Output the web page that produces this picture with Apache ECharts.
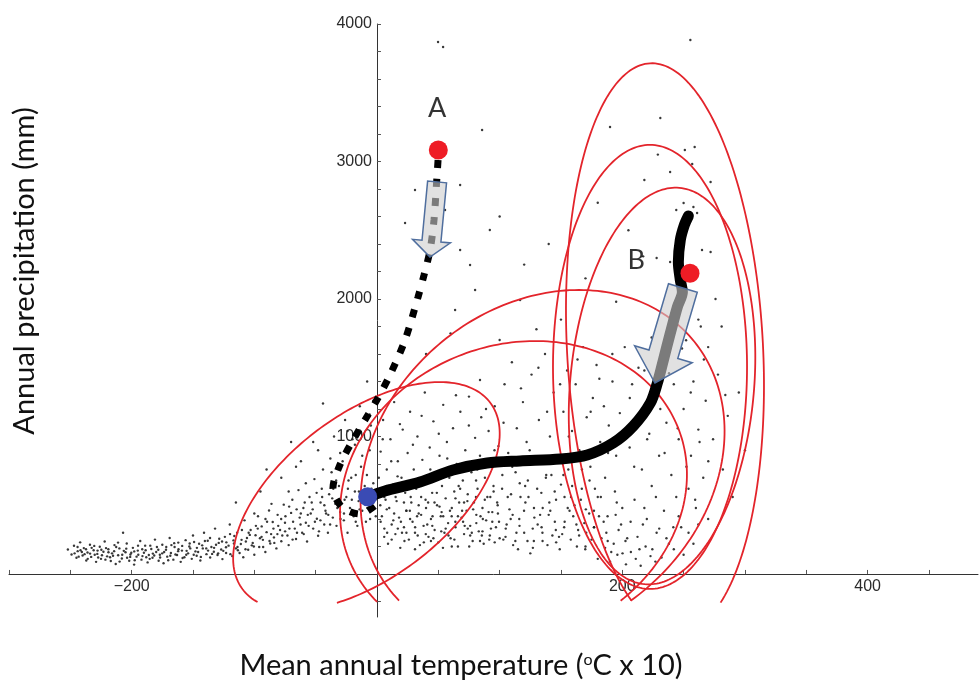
<!DOCTYPE html>
<html>
<head>
<meta charset="utf-8">
<title>Temperature vs precipitation</title>
<script src="https://cdn.jsdelivr.net/npm/echarts@6.0.0/dist/echarts.min.js"></script>
<style>
  html, body { margin: 0; padding: 0; background: #fff; }
  #chart { width: 979px; height: 681px; }
</style>
</head>
<body>
<div id="chart"></div>
<script>
// axis ticks / labels
const xTicks = [-300, -250, -200, -150, -100, -50, 0, 50, 100, 150, 200, 250, 300, 350, 400, 450];
const xLabels = [-200, 200, 400];
const yTicks = [-200, 0, 200, 400, 600, 800, 1000, 1200, 1400, 1600, 1800, 2000, 2200, 2400, 2600, 2800, 3000, 3200, 3400, 3600, 3800, 4000];
const yLabels = [1000, 2000, 3000, 4000];

// site cloud (temperature, precipitation)
const coldTail = [
  [-252,178],[-249,142],[-247,205],[-245,118],[-244,166],[-242,230],[-240,134],[-239,188],[-237,98],[-236,156],
  [-234,212],[-233,124],[-231,172],[-229,88],[-228,146],[-226,198],[-225,110],[-223,162],[-222,236],[-220,128],
  [-219,180],[-217,94],[-216,150],[-214,210],[-213,72],[-211,136],[-210,186],[-208,112],[-207,300],[-205,158],
  [-204,222],[-202,96],[-201,142],[-199,190],[-198,68],[-196,126],[-195,170],[-193,240],[-192,104],[-190,154],
  [-189,206],[-187,84],[-186,138],[-184,182],[-183,118],[-181,250],[-180,160],[-178,96],[-177,140],[-175,212],
  [-174,78],[-172,176],[-171,126],[-169,262],[-168,152],[-166,104],[-165,196],[-163,138],[-162,228],[-160,88],
  [-159,170],[-157,122],[-156,246],[-154,150],[-153,200],[-151,110],[-150,280],[-148,164],[-147,132],[-145,220],
  [-144,98],[-142,186],[-141,300],[-139,144],[-138,242],[-136,120],[-135,196],[-133,162],[-132,330],[-130,138],
  [-129,226],[-127,178],[-126,108],[-124,270],[-123,152],[-121,206],[-120,360],[-118,130],[-117,244],[-115,186],
  [-114,300],[-112,152],[-111,218],[-109,122],[-108,390],[-106,262],[-105,176],[-103,320],[-102,208],[-100,140],
  [-99,282],[-97,420],[-96,196],[-94,346],[-93,248],[-91,160],[-90,304],[-88,462],[-87,222],[-85,378],
  [-84,266],[-82,186],[-81,430],[-79,320],[-78,238],[-76,504],[-75,372],[-73,280],[-72,210],[-70,444],
  [-69,540],[-67,330],[-66,254],[-64,610],[-63,410],[-61,300],[-60,480],[-58,372],[-57,236],[-55,560],
  [-54,440],[-52,330],[-51,690],[-49,402],[-48,278],[-46,520],[-45,620],[-43,360],[-42,460],[-40,300],
  [-39,580],[-37,740],[-36,410],[-34,510],[-33,350],[-31,640],[-30,450],[-28,820],[-27,390],[-25,560],
  [-24,300],[-22,480],[-21,700],[-19,420],[-18,600],[-16,350],[-15,530],[-13,780],[-12,460],[-10,640],
  [-9,380],[-7,560],[-6,900],[-4,470],[-3,660],[-1,420],
  [-115,520],[-95,600],[-78,700],[-62,820],[-48,900],[-35,1000],[-26,1120],[-14,1220],[-5,1080],[-70,960],
  [-90,760],[-44,1240],[-20,980],[-8,1400]
];
const coldTail2 = [
  [-246.5,150],[-243.2,126],[-241.7,172],[-238.4,144],[-235.8,110],[-232.6,190],[-230.1,140],[-227.3,120],
  [-224.7,176],[-221.4,104],[-218.9,158],[-215.2,132],[-212.6,196],[-209.8,90],[-206.4,168],[-203.7,118],
  [-200.3,154],[-197.5,100],[-194.8,206],[-191.2,130],[-188.6,172],[-185.3,110],[-182.7,148],[-179.4,196],
  [-176.8,120],[-173.5,160],[-170.2,100],[-167.6,210],[-164.3,142],[-161.8,180],[-158.5,116],[-155.2,168],
  [-152.7,222],[-149.4,140],[-146.8,190],[-143.6,124],[-140.3,240],[-137.7,170],[-134.4,146],[-131.2,212],
  [-128.6,256],[-125.3,168],[-122.8,230],[-119.5,144],[-116.3,276],[-113.7,196],[-110.4,248],[-107.2,180],
  [-104.6,300],[-101.3,226],[-98.7,350],[-95.4,260],[-92.8,196],[-89.6,380],[-86.3,290],[-83.7,226],
  [-80.5,350],[-77.2,280],[-74.6,420],[-71.4,330],[-68.8,250],[-65.5,470],[-62.3,360],[-59.7,290],
  [-56.4,430],[-53.2,520],[-50.6,380],[-47.3,310],[-44.7,560],[-41.5,440],[-38.2,360],[-35.6,620],
  [-32.3,480],[-29.7,400],[-26.4,540],[-23.2,680],[-20.6,450],[-17.3,380],[-14.7,600],[-11.5,520],
  [-8.2,720],[-5.6,400],[-2.3,560],
  [-86,510],[-72,600],[-58,660],[-44,760],[-30,880],[-18,940],[-6,1160],[-100,440],[-66,780],[-38,840],
  [-24,1040],[-12,860],[-52,960],[-3,1260]
];
const coldTail3 = [
  [-244.1,196],[-240.6,160],[-237.2,180],[-233.9,148],[-230.5,204],[-227.8,170],[-224.2,136],[-220.9,188],
  [-217.6,122],[-214.3,166],[-211.1,228],[-207.7,140],[-204.4,184],[-201.2,124],[-197.9,164],[-194.6,140],
  [-191.4,180],[-188.1,122],[-184.8,206],[-181.6,134],[-178.3,176],[-175.1,150],[-171.8,196],[-168.5,132],
  [-165.3,224],[-162.1,166],[-158.8,204],[-155.5,140],[-152.2,186],[-149.1,232],[-145.8,160],[-142.5,208],
  [-139.2,186],[-136.1,262],[-132.8,190],[-129.5,150],[-126.3,236],[-123.1,194],[-119.8,290],[-116.6,222],
  [-113.4,172],[-110.1,320],[-106.9,236],[-103.7,284],[-100.4,200],[-97.2,330],[-94.1,270],[-90.9,400],
  [-87.6,240],[-84.4,330],[-81.2,290],[-78.1,400],[-74.9,310],[-71.6,490],[-68.4,380],[-65.2,300],
  [-62.1,440],[-58.9,520],[-55.7,350],[-52.4,470],[-49.2,590],[-46.1,390],[-42.9,500],[-39.7,430],
  [-36.5,550],[-33.3,680],[-30.1,510],[-26.9,440],[-23.7,620],[-20.5,540],[-17.3,720],[-14.1,470],
  [-10.9,580],[-7.7,480],[-4.5,620],[-1.3,540]
];
const warmCloud = [
  [2,610],[3,890],[4,420],[5,1120],[6,330],[7,540],[8,760],[9,220],[10,480],[11,980],[12,360],[13,650],[14,1250],
  [15,290],[16,530],[17,820],[18,410],[19,190],[20,700],[21,1050],[22,340],[23,590],[24,460],[25,880],[26,250],
  [27,1180],[28,520],[29,380],[30,760],[31,300],[32,620],[33,1000],[34,440],[35,210],[36,560],[37,830],[38,350],
  [39,1320],[40,480],[41,680],[42,270],[43,920],[44,400],[45,590],[46,1110],[47,320],[48,740],[49,500],[50,230],
  [51,860],[52,420],[53,640],[54,1230],[55,300],[56,550],[57,960],[58,370],[59,700],[60,260],[61,480],[62,1060],
  [63,600],[64,340],[65,800],[66,200],[67,520],[68,1180],[69,410],[70,680],[71,290],[72,900],[73,460],[74,580],
  [75,1290],[76,350],[77,740],[78,240],[79,520],[80,990],[81,430],[82,620],[83,310],[84,860],[85,1140],[86,480],
  [87,220],[88,700],[89,390],[90,560],[91,1040],[92,280],[93,820],[94,450],[95,640],[96,1220],[97,340],[98,520],
  [99,930],[100,260],
  [3,380],[8,470],[12,250],[17,330],[22,520],[27,400],[31,180],[36,430],[41,360],[46,260],[51,490],[56,330],
  [61,200],[66,420],[71,520],[76,280],[81,370],[86,310],[91,450],[96,230],[6,560],[14,440],[24,300],[34,500],
  [44,240],[54,420],[64,550],[74,330],[84,240],[94,380],
  [102,620],[104,1380],[105,330],[107,880],[108,470],[110,1540],[111,210],[113,740],[114,1060],[116,400],[117,560],
  [119,1250],[120,300],[122,960],[123,680],[125,150],[126,1450],[128,480],[129,820],[131,360],[132,1120],[134,590],
  [135,240],[137,1600],[138,720],[140,430],[141,1000],[143,280],[144,1320],[146,540],[147,860],[149,180],[150,650],
  [152,1180],[153,380],[155,1480],[156,760],[158,250],[159,1040],[161,500],[162,1380],[164,320],[165,900],[167,620],
  [168,1650],[170,200],[171,1140],[173,440],[174,780],[176,1280],[177,340],[179,1520],[180,560],[182,960],[183,260],
  [185,1220],[186,700],[188,420],[189,1080],[191,160],[192,1400],[194,600],[195,860],[197,320],[198,1170],[200,480],
  [103,250],[109,400],[115,180],[121,520],[127,330],[133,430],[139,210],[145,380],[151,290],[157,460],[163,200],
  [169,370],[175,250],[181,420],[187,300],[193,220],[199,360],
  [202,1650],[204,260],[206,920],[208,1380],[210,540],[212,1120],[214,180],[216,760],[218,1480],[220,400],[222,1020],
  [224,640],[226,1240],[228,300],[230,860],[232,1560],[234,460],[236,1100],[238,220],[240,720],[242,1380],[244,560],
  [246,980],[248,340],[250,1200],[252,1700],[254,620],[256,860],[258,1400],[260,480],[262,1050],[264,1800],[266,700],
  [268,1260],[270,400],[274,980],[278,1450],[282,760],[286,1150],[290,560],[295,1320],[300,900],
  [190,90],[196,140],[203,70],[207,160],[211,110],[215,60],[219,200],[223,130],[186,190],[180,110],[227,90]
];
const warmCloud2 = [
  [1.5,700],[4.7,980],[8.3,300],[11.6,820],[15.2,560],[18.7,1090],[22.4,240],[25.8,660],[29.3,940],[32.7,420],
  [36.4,1150],[39.8,290],[43.5,760],[46.9,520],[50.4,1020],[53.8,190],[57.3,840],[60.9,420],[64.4,1300],[67.8,620],
  [71.5,350],[74.9,1080],[78.4,470],[81.8,760],[85.5,280],[88.9,1200],[92.4,560],[95.8,900],[99.5,380],[103.2,1100],
  [106.6,560],[110.3,780],[113.7,300],[117.4,1350],[120.8,640],[124.5,900],[127.9,240],[131.6,1500],[135.1,480],
  [138.7,1180],[142.2,720],[145.8,320],[149.3,1380],[152.9,560],[156.4,1000],[160,420],[163.5,1560],[167.1,760],
  [170.6,300],[174.2,1180],[177.7,620],[181.3,1420],[184.8,380],[188.4,880],[191.9,1600],[195.5,520],[199,1000],
  [202.6,240],[206.1,1280],[209.7,780],[213.2,1500],[216.8,360],[220.3,980],[223.9,1720],[227.4,560],[231,1200],
  [234.5,880],[238.1,1460],[241.6,340],[245.2,1060],[248.7,1640],[252.3,780],[255.8,1320],[259.4,540],[263,960],
  [266.5,1560],[270.1,820],
  [19.5,380],[26.8,460],[33.2,280],[39.6,540],[45.1,350],[52.7,450],[58.3,280],[63.9,380],[69.4,460],[75.2,200],
  [80.7,560],[86.3,400],[92.9,330],[98.4,500],[104.8,270],[110.6,430],[116.2,350],[122.7,240],[128.3,410],
  [134.9,300],[140.5,520],[146.1,230],[152.6,340],[158.2,560],[164.8,280],[170.3,470],[176.9,340],[182.5,560],
  [188.1,240],[194.6,430],[200.2,150],[206.8,380],[212.4,270],[218,480],[224.5,180],[230.1,330],
  [232,120],[236,260],[242,180],[246,420],[250,140],[254,300],[258,220],[262,360]
];
const warmCloud3 = [
  [2.7,500],[5.9,270],[9.6,640],[13.3,390],[16.8,710],[20.4,300],[23.9,460],[27.5,560],[31.1,340],[34.6,660],
  [38.2,230],[41.7,520],[45.3,420],[48.8,590],[52.4,310],[55.9,720],[59.5,460],[63.1,250],[66.6,640],[70.2,380],
  [73.7,530],[77.3,300],[80.8,680],[84.4,420],[87.9,540],[91.5,250],[95.1,600],[98.6,440],[102.2,720],[105.7,360],
  [109.3,580],[112.8,240],[116.4,660],[119.9,460],[123.5,560],[127.1,190],[130.6,620],[134.2,340],[137.7,700],
  [141.3,460],[144.9,600],[148.4,270],[152,720],[155.5,480],[159.1,640],[162.6,360],[166.2,540],[169.8,180],
  [173.3,680],[176.9,460]
];
const sparseHigh = [
  [49.8,3869],[53.9,3833],[85.7,3229],[31,2793],[22.9,2553],[67.8,2829],[55.5,2647],[92,2502],[67.8,2356],[75.9,2247],
  [80,2065],[63.7,1920],[116.7,1993],[100,1702],[84,1411],[231,3316],[190,3251],[251,3084],[259,3105],[229,3050],
  [239,2924],[257,2982],[218,2865],[272,2851],[250,2698],[258,2669],[244,2647],[261,2625],[265,2356],[272,2342],
  [239,2269],[228,2298],[217,2310],[255.5,3884],[140,2400],[170,2150],[195,1980],[120,2250],[150,1850],[100,2600],
  [180,2700],[205,2500],[60,1750],[40,1600],[130,1780],[276,2000],[281,1800],[270,1650],[284,1302],[262,1850]
];

// envelopes: centre x, centre y, half-width, half-height, tilt (deg)
const redEllipses = [
  [-8.6, 567, 126.4, 596, 37],
  [135, 782, 160.2, 1165, 40.6],
  [111.3, 585, 144.5, 1077, 22],
  [234.8, 1644, 79.9, 2073, 3],
  [222.6, 1506, 79.1, 1615, 0],
  [232.4, 1367, 75, 1447, -5]
];
const clipBottom = -210;

// trajectories
const pathA = [
  [49.8,3011],[49,2902],[46.5,2575],[43.3,2356],[38.4,2175],[33.5,2015],[22.9,1702],[10.6,1447],[0.8,1280],
  [-9.8,1120],[-20.4,960],[-30.2,793],[-35.9,625],[-28.6,487],[-13.9,436],[-0.8,502]
];
const pathB = [
  [-7.3,560],[6.5,604],[35.1,669],[62,756],[89.8,807],[116.7,822],[149.4,836],[171.4,865],[192.7,953],[209,1076],
  [222.9,1244],[228.6,1389],[233.5,1556],[239.2,1753],[244.9,1942],[249,2051],[247.3,2138],[245.7,2269],
  [247.3,2429],[250.6,2538],[253.9,2604]
];
const startPoints = [[50,3084],[255.2,2187]];
const endPoints = [[-7.6,562]];
const pathLabels = [[49,3389,'A'],[211.4,2284,'B']];
const arrowFrom = [[49,2851],[249.4,2080]];
const arrowTo = [[43.2,2305],[226.6,1389]];

const X_MIN = -300, X_MAX = 490, Y_MIN = -313, Y_MAX = 4000;
const G = { left: 9, right: 1, top: 24, bottom: 64 };
const plotW = 979 - G.left - G.right, plotH = 681 - G.top - G.bottom;
// axes cross at the origin
const xAxisShift = -plotH * (0 - Y_MIN) / (Y_MAX - Y_MIN);
const yAxisShift = -plotW * (0 - X_MIN) / (X_MAX - X_MIN);

const chart = echarts.init(document.getElementById('chart'));

function ellipseItem(params, api) {
  const c = api.coord([api.value(0), api.value(1)]);
  const sx = api.size([api.value(2), 0])[0];
  const sy = api.size([0, api.value(3)])[1];
  const a = api.value(4) * Math.PI / 180;
  const clipY = api.coord([0, clipBottom])[1];
  let pts = [];
  for (let i = 0; i < 240; i++) {
    const t = i / 240 * Math.PI * 2;
    const lx = sx * Math.cos(t), ly = sy * Math.sin(t);
    pts.push([c[0] + lx * Math.cos(a) - ly * Math.sin(a), c[1] - (lx * Math.sin(a) + ly * Math.cos(a))]);
  }
  // start at the lowest point so the visible part stays in one piece
  let lo = 0;
  pts.forEach((p, i) => { if (p[1] > pts[lo][1]) lo = i; });
  pts = pts.slice(lo).concat(pts.slice(0, lo));
  const vis = pts.filter(p => p[1] <= clipY);
  return {
    type: vis.length === pts.length ? 'polygon' : 'polyline',
    shape: { points: vis },
    style: { fill: 'none', stroke: '#e3242b', lineWidth: 1.8 }
  };
}

const arrowSizes = [
  { shaft: 19, head: 38, headLen: 16 },
  { shaft: 30, head: 60, headLen: 30 }
];
function arrowItem(params, api) {
  const p0 = api.coord([api.value(0), api.value(1)]);
  const p1 = api.coord([api.value(2), api.value(3)]);
  const s = arrowSizes[params.dataIndex];
  const dx = p1[0] - p0[0], dy = p1[1] - p0[1];
  const len = Math.hypot(dx, dy);
  const ux = dx / len, uy = dy / len, nx = -uy, ny = ux;
  const bx = p1[0] - ux * s.headLen, by = p1[1] - uy * s.headLen;
  const hw = s.shaft / 2, hh = s.head / 2;
  return {
    type: 'polygon',
    shape: { points: [
      [p0[0] + nx * hw, p0[1] + ny * hw],
      [bx + nx * hw, by + ny * hw],
      [bx + nx * hh, by + ny * hh],
      [p1[0], p1[1]],
      [bx - nx * hh, by - ny * hh],
      [bx - nx * hw, by - ny * hw],
      [p0[0] - nx * hw, p0[1] - ny * hw]
    ] },
    style: { fill: 'rgba(205,205,205,0.6)', stroke: '#4f6e9e', lineWidth: 1.5 }
  };
}

const tickFont = { fontFamily: 'Liberation Sans', fontSize: 16, color: '#2b2b2b' };

const option = {
  animation: false,
  grid: Object.assign({ outerBoundsMode: 'none' }, G),
  xAxis: {
    type: 'value', min: X_MIN, max: X_MAX, position: 'bottom', offset: xAxisShift,
    axisLine: { onZero: false, lineStyle: { color: '#333', width: 1 } },
    axisTick: { inside: true, length: 4, customValues: xTicks, lineStyle: { color: '#555' } },
    axisLabel: Object.assign({ customValues: xLabels, margin: 5,
      formatter: v => (v < 0 ? '\u2212' + (-v) : String(v)) }, tickFont),
    splitLine: { show: false }
  },
  yAxis: {
    type: 'value', min: Y_MIN, max: Y_MAX, position: 'left', offset: yAxisShift,
    axisLine: { onZero: false, lineStyle: { color: '#333', width: 1 } },
    axisTick: { inside: true, length: 4, customValues: yTicks, lineStyle: { color: '#555' } },
    axisLabel: Object.assign({ customValues: yLabels, margin: 5, formatter: v => String(v) }, tickFont),
    splitLine: { show: false }
  },
  graphic: [
    {
      type: 'text', x: 461, y: 666,
      style: {
        text: 'Mean annual temperature ({sup|o}C x 10)',
        font: '29px Lato', fill: '#111', align: 'center', verticalAlign: 'middle',
        rich: { sup: { fontSize: 16, fontFamily: 'Lato', verticalAlign: 'top', fill: '#111' } }
      }
    },
    {
      type: 'text', x: 25, y: 271, rotation: Math.PI / 2,
      style: { text: 'Annual precipitation (mm)', font: '29px Lato', fill: '#111', align: 'center', verticalAlign: 'middle' }
    }
  ],
  series: [
    {
      type: 'scatter', name: 'sites', z: 1, symbolSize: 2.4, silent: true,
      data: coldTail.concat(coldTail2, coldTail3, warmCloud, warmCloud2, warmCloud3, sparseHigh),
      itemStyle: { color: '#222', opacity: 0.9 }
    },
    {
      type: 'custom', name: 'envelopes', z: 2, silent: true,
      renderItem: ellipseItem, data: redEllipses
    },
    {
      type: 'line', name: 'A', z: 3, data: pathA, smooth: 0.3, symbol: 'none', silent: true,
      lineStyle: { color: '#000', width: 7, type: [8, 11], cap: 'butt' }
    },
    {
      type: 'line', name: 'B', z: 3, data: pathB, smooth: 0.3, symbol: 'none', silent: true,
      lineStyle: { color: '#000', width: 11, cap: 'round', join: 'round' }
    },
    {
      type: 'custom', name: 'arrows', z: 4, silent: true, renderItem: arrowItem,
      data: arrowFrom.map((p, i) => p.concat(arrowTo[i]))
    },
    {
      type: 'scatter', name: 'start', z: 5, symbolSize: 19, data: startPoints, silent: true,
      itemStyle: { color: '#ee1c25', opacity: 1 }
    },
    {
      type: 'scatter', name: 'end', z: 5, symbolSize: 19, data: endPoints, silent: true,
      itemStyle: { color: '#3a4bb4', opacity: 1 }
    },
    {
      type: 'scatter', name: 'labels', z: 6, symbolSize: 1, data: pathLabels, silent: true,
      itemStyle: { color: 'rgba(0,0,0,0)' },
      label: { show: true, position: 'inside', formatter: p => p.value[2], fontFamily: 'Lato', fontSize: 27, color: '#000' }
    }
  ]
};

chart.setOption(option);
window.addEventListener('resize', () => chart.resize());
</script>
</body>
</html>
